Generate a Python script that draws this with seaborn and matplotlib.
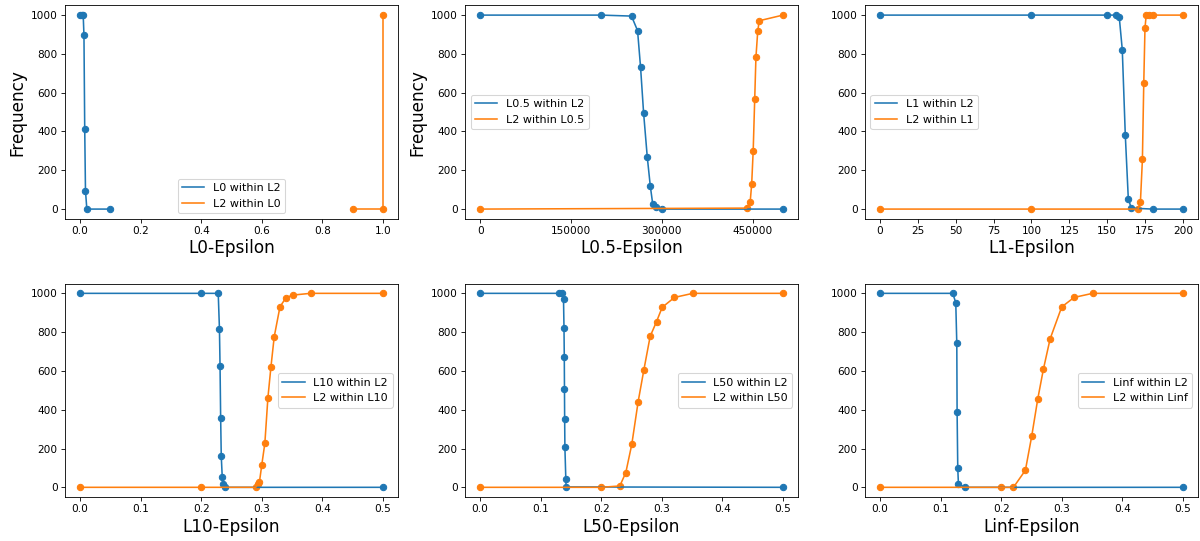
import matplotlib
matplotlib.use("Agg")
import pandas as pd
from matplotlib import pyplot as plt
import seaborn as sns

# L0
l0_blue_x = [0.0, 0.005, 0.01, 0.0125, 0.015, 0.0175, 0.022, 0.1]
l0_blue_y = [1000, 1000, 1000, 895, 415, 95, 0, 0]
l0_orange_x = [0.9, 1.0, 1.0]
l0_orange_y = [0, 0, 1000]

# L0.5
l05_blue_x = [0, 200000, 250000, 260000, 265000, 270000, 276000, 281000, 285000, 290000, 300000, 500000]
l05_blue_y = [1000, 1000, 995, 920, 730, 495, 270, 120, 27, 12, 0, 0]
l05_orange_x = [0, 440000, 446000, 448500, 451000, 453500, 455500, 458500, 461000, 500000]
l05_orange_y = [0, 5, 36, 130, 302, 568, 782, 918, 971, 1000]

# L1
l1_blue_x = [0, 100, 150, 156, 158, 160, 162, 164, 166, 180, 200]
l1_blue_y = [1000, 1000, 1000, 1000, 990, 822, 381, 51, 5, 0, 0]
l1_orange_x = [0, 100, 170.5, 172, 173.3, 174.2, 175, 175.8, 177.8, 180, 200]
l1_orange_y = [0, 0, 0, 38, 256, 650, 933, 1000, 1000, 1000, 1000]

# L10
l10_blue_x = [0.0, 0.2, 0.228, 0.230, 0.231, 0.232, 0.233, 0.2346, 0.236, 0.240, 0.5]
l10_blue_y = [1000, 1000, 1000, 818, 625, 359, 161, 55, 15, 0, 0]
l10_orange_x = [0.0, 0.2, 0.290, 0.2935, 0.296, 0.300, 0.305, 0.310, 0.315, 0.3205, 0.330, 0.340, 0.351, 0.3805, 0.5]
l10_orange_y = [0, 0, 0, 19, 26, 117, 227, 460, 619, 777, 931, 978, 991, 1000, 1000]

# L50
l50_blue_x = [0.0, 0.130, 0.135, 0.1377, 0.1385, 0.139, 0.1393, 0.1396, 0.140, 0.1415, 0.142, 0.5]
l50_blue_y = [1000, 1000, 1000, 971, 823, 672, 509, 352, 206, 45, 2, 0]
l50_orange_x = [0.0, 0.2, 0.2307, 0.2406, 0.2505, 0.261, 0.2704, 0.2808, 0.2913, 0.3007, 0.321, 0.3513, 0.5]
l50_orange_y = [0, 0, 7, 76, 222, 442, 605, 778, 854, 928, 979, 1000, 1000]

# Linf
linf_blue_x = [0.0, 0.120, 0.125, 0.1267, 0.1272, 0.1283, 0.1294, 0.1404, 0.5]
linf_blue_y = [1000, 1000, 952, 742, 388, 98, 17, 0, 0]
linf_orange_x = [0.0, 0.2, 0.2203, 0.240, 0.2505, 0.2605, 0.2698, 0.2808, 0.300, 0.3205, 0.351, 0.5]
linf_orange_y = [0, 0, 0, 88, 265, 457, 610, 765, 930, 979, 1000, 1000]

panels = [
    ("L0", l0_blue_x, l0_blue_y, l0_orange_x, l0_orange_y, "lower center", True),
    ("L0.5", l05_blue_x, l05_blue_y, l05_orange_x, l05_orange_y, "center left", True),
    ("L1", l1_blue_x, l1_blue_y, l1_orange_x, l1_orange_y, "center left", False),
    ("L10", l10_blue_x, l10_blue_y, l10_orange_x, l10_orange_y, "center right", False),
    ("L50", l50_blue_x, l50_blue_y, l50_orange_x, l50_orange_y, "center right", False),
    ("Linf", linf_blue_x, linf_blue_y, linf_orange_x, linf_orange_y, "center right", False),
]

DPI = 76
fig, axes = plt.subplots(2, 3, figsize=(1200 / DPI, 541 / DPI), dpi=DPI)
fig.subplots_adjust(left=0.0542, right=0.9983, top=0.990, bottom=0.0813, wspace=0.201, hspace=0.304)

for ax, (name, bx, by, ox, oy, loc, ylab) in zip(axes.flat, panels):
    for xs, ys, color, label in [(bx, by, "tab:blue", f"{name} within L2"),
                                 (ox, oy, "tab:orange", f"L2 within {name}")]:
        df = pd.DataFrame({"x": xs, "y": ys})
        sns.lineplot(data=df, x="x", y="y", ax=ax, color=color, label=label,
                     estimator=None, sort=False, linewidth=1.5)
        sns.scatterplot(data=df, x="x", y="y", ax=ax, color=color, s=36,
                        edgecolor=color, linewidth=1, legend=False)
    ax.legend(loc=loc, fontsize=10.5)
    ax.set_xlabel(f"{name}-Epsilon", fontsize=16, labelpad=3)
    ax.set_ylabel("Frequency" if ylab else "", fontsize=16)
    ax.set_yticks([0, 200, 400, 600, 800, 1000])

axes[0, 1].set_xticks([0, 150000, 300000, 450000])
axes[0, 1].ticklabel_format(axis="x", style="plain")

fig.savefig("out.png", dpi=DPI)
